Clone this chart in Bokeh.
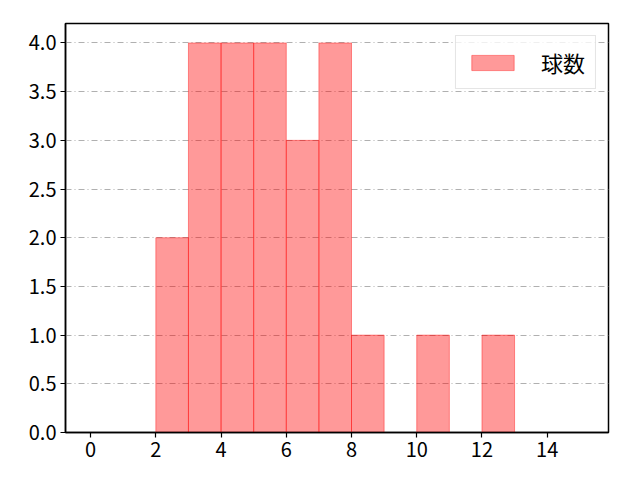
from bokeh.plotting import figure
from bokeh.models import Range1d, FixedTicker, Legend, LegendItem, NumeralTickFormatter
from bokeh.embed import file_html
from bokeh.resources import INLINE

bin_left = [2, 3, 4, 5, 6, 7, 8, 9, 10, 11, 12]
counts = [2, 4, 4, 4, 3, 4, 1, 0, 1, 0, 1]
bin_width = 1
x_ticks = [0, 2, 4, 6, 8, 10, 12, 14]
y_ticks = [0.0, 0.5, 1.0, 1.5, 2.0, 2.5, 3.0, 3.5, 4.0]
label = "球数"

FONT = "Noto Sans CJK JP"

p = figure(width=624, height=464, output_backend="svg", toolbar_location=None,
           x_range=Range1d(-0.77, 15.88), y_range=Range1d(0, 4.2),
           min_border_left=65, min_border_right=16, min_border_top=23, min_border_bottom=32)

lefts = [b for b, c in zip(bin_left, counts) if c > 0]
rights = [b + bin_width for b, c in zip(bin_left, counts) if c > 0]
tops = [c for c in counts if c > 0]
r = p.quad(left=lefts, right=rights, bottom=0, top=tops,
           fill_color="red", fill_alpha=0.4, line_color="red", line_alpha=0.4, line_width=1)

p.xaxis.ticker = FixedTicker(ticks=x_ticks)
p.yaxis.ticker = FixedTicker(ticks=y_ticks)
p.yaxis.formatter = NumeralTickFormatter(format="0.0")
for ax in (p.xaxis[0], p.yaxis[0]):
    ax.major_label_text_font = FONT
    ax.major_label_text_font_size = "20px"
    ax.major_label_text_color = "black"
    ax.axis_line_color = "black"
    ax.axis_line_width = 1.5
    ax.major_tick_line_color = "black"
    ax.major_tick_line_width = 1.2
    ax.major_tick_out = 5
    ax.major_tick_in = 0
    ax.minor_tick_line_color = None
p.xaxis.major_label_standoff = 4
p.yaxis.major_label_standoff = 4

p.xgrid.grid_line_color = None
p.ygrid.grid_line_color = "#b0b0b0"
p.ygrid.grid_line_dash = "6 3 1 3"
p.ygrid.grid_line_width = 1

p.outline_line_color = "black"
p.outline_line_width = 1.5
p.background_fill_color = "white"
p.border_fill_color = "white"

legend = Legend(items=[LegendItem(label=label, renderers=[r])], location="top_right")
legend.label_text_font = FONT
legend.label_text_font_size = "22px"
legend.label_text_color = "black"
legend.border_line_color = "#cccccc"
legend.border_line_width = 1
legend.margin = 12
legend.padding = 10
legend.glyph_width = 53
legend.glyph_height = 19
legend.label_standoff = 22
legend.label_height = 25
legend.background_fill_alpha = 0.8
p.add_layout(legend)

open("out.html", "w").write(file_html(p, INLINE))
